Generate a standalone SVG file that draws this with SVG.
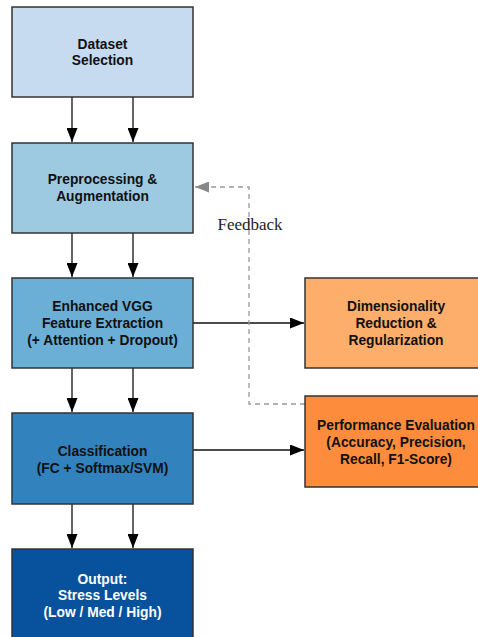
<svg xmlns="http://www.w3.org/2000/svg" width="478" height="637" viewBox="0 0 478 637">
<defs>
<marker id="ah" viewBox="0 0 14 11" refX="14" refY="5.5" markerWidth="14" markerHeight="11" markerUnits="userSpaceOnUse" orient="auto"><path d="M0,0 L14,5.5 L0,11 Z" fill="#000"/></marker>
<marker id="ahg" viewBox="0 0 14 11" refX="14" refY="5.5" markerWidth="14" markerHeight="11" markerUnits="userSpaceOnUse" orient="auto"><path d="M0,0 L14,5.5 L0,11 Z" fill="#888"/></marker>
<style>
.box{stroke:#333;stroke-width:1.5}
.t{font-family:"Liberation Sans",Arial,sans-serif;font-weight:bold;font-size:13.8px;text-anchor:middle;fill:#111}
.w{fill:#fff}
.c{stroke:#111;stroke-width:1.3;fill:none;marker-end:url(#ah)}
.fb{stroke:#999;stroke-width:1.3;stroke-dasharray:5,4;fill:none;marker-end:url(#ahg)}
.lbl{font-family:"Liberation Serif","Times New Roman",serif;font-size:17px;fill:#222}
</style>
</defs>
<rect width="478" height="637" fill="#fff"/>
<g id="connectors">
<path class="c" d="M72,97 V142"/>
<path class="c" d="M133,97 V142"/>
<path class="c" d="M72,233 V277"/>
<path class="c" d="M133,233 V277"/>
<path class="c" d="M72,368 V412"/>
<path class="c" d="M133,368 V412"/>
<path class="c" d="M72,504 V548"/>
<path class="c" d="M133,504 V548"/>
<path class="c" d="M193,323 H304"/>
<path class="c" d="M193,450 H304"/>
<path class="fb" d="M305,404 H249 V187 H195"/>
<text class="lbl" x="250" y="230" text-anchor="middle">Feedback</text>
</g>
<g id="dataset">
<rect class="box" x="12" y="7" width="181" height="90" fill="#c6dbef"/>
<text class="t" x="102.5" y="48.5">Dataset</text>
<text class="t" x="102.5" y="64.5">Selection</text>
</g>
<g id="preprocessing">
<rect class="box" x="12" y="143" width="181" height="90" fill="#9ecae1"/>
<text class="t" x="102.5" y="183.5">Preprocessing &amp;</text>
<text class="t" x="102.5" y="200.5">Augmentation</text>
</g>
<g id="vgg">
<rect class="box" x="12" y="278" width="181" height="90" fill="#6baed6"/>
<text class="t" x="102.5" y="311">Enhanced VGG</text>
<text class="t" x="102.5" y="328">Feature Extraction</text>
<text class="t" x="102.5" y="345">(+ Attention + Dropout)</text>
</g>
<g id="classification">
<rect class="box" x="12" y="413" width="181" height="91" fill="#3182bd"/>
<text class="t" x="102.5" y="455.5">Classification</text>
<text class="t" x="102.5" y="472.5">(FC + Softmax/SVM)</text>
</g>
<g id="output">
<rect class="box" x="12" y="549" width="181" height="91" fill="#08519c"/>
<text class="t w" x="102.5" y="584">Output:</text>
<text class="t w" x="102.5" y="600">Stress Levels</text>
<text class="t w" x="102.5" y="616.5">(Low / Med / High)</text>
</g>
<g id="dimred">
<rect class="box" x="305" y="278" width="180" height="90" fill="#fdae6b"/>
<text class="t" x="396" y="311">Dimensionality</text>
<text class="t" x="396" y="328">Reduction &amp;</text>
<text class="t" x="396" y="345">Regularization</text>
</g>
<g id="perfeval">
<rect class="box" x="305" y="396" width="180" height="91" fill="#fd8d3c"/>
<text class="t" x="396" y="430">Performance Evaluation</text>
<text class="t" x="396" y="447">(Accuracy, Precision,</text>
<text class="t" x="396" y="464">Recall, F1-Score)</text>
</g>
</svg>
